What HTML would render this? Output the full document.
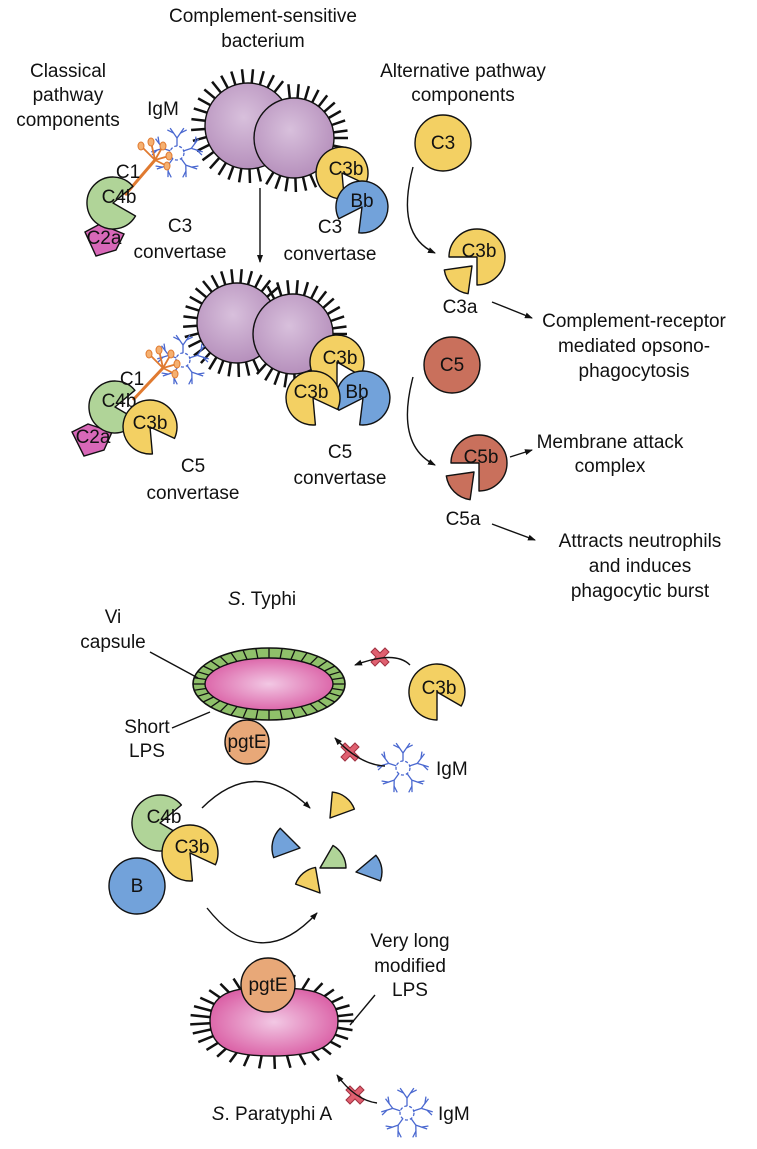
<!DOCTYPE html>
<html><head><meta charset="utf-8"><style>
html,body{margin:0;padding:0;background:#fff;}
svg{display:block;}
text{font-family:"Liberation Sans",sans-serif;font-size:19px;fill:#111;}
</style></head><body>
<svg id="s" width="757" height="1149" viewBox="0 0 757 1149" xmlns="http://www.w3.org/2000/svg">
<defs>
<radialGradient id="gp" cx="0.45" cy="0.4" r="0.6"><stop offset="0" stop-color="#d8c0dc"/><stop offset="1" stop-color="#b690bc"/></radialGradient>
<radialGradient id="gk" cx="0.5" cy="0.5" r="0.6"><stop offset="0" stop-color="#f2c8e4"/><stop offset="1" stop-color="#d8559f"/></radialGradient>
<marker id="ar" markerWidth="8" markerHeight="8" refX="7" refY="4" orient="auto" markerUnits="userSpaceOnUse"><path d="M0,1 L8,4 L0,7 Z" fill="#111"/></marker>
</defs>
<g id="spk" stroke="#111" stroke-width="2.5"></g>
<g id="shapes"></g>
<g id="lines" fill="none" stroke="#111" stroke-width="1.4">
<line x1="260" y1="188" x2="260" y2="262" marker-end="url(#ar)"/>
<path d="M413,167 Q395,235 435,253" marker-end="url(#ar)"/>
<line x1="492" y1="302" x2="532" y2="318" marker-end="url(#ar)"/>
<path d="M413,377 Q395,445 435,465" marker-end="url(#ar)"/>
<line x1="510" y1="457" x2="532" y2="450" marker-end="url(#ar)"/>
<line x1="492" y1="524" x2="535" y2="540" marker-end="url(#ar)"/>
<line x1="150" y1="652" x2="198" y2="678"/>
<line x1="172" y1="728" x2="210" y2="712"/>
<path d="M410,665 Q395,650 355,665" marker-end="url(#ar)"/>
<path d="M385,766 Q360,765 335,738" marker-end="url(#ar)"/>
<path d="M202,808 Q255,755 310,808" marker-end="url(#ar)"/>
<path d="M207,908 Q260,975 317,913" marker-end="url(#ar)"/>
<line x1="375" y1="995" x2="350" y2="1025"/>
<path d="M377,1103 Q355,1100 337,1075" marker-end="url(#ar)"/>
</g>
<g id="top"></g>
<g text-anchor="middle">
<text x="263" y="22">Complement-sensitive</text>
<text x="263" y="47">bacterium</text>
<text x="68" y="77">Classical</text>
<text x="68" y="101">pathway</text>
<text x="68" y="126">components</text>
<text x="463" y="77">Alternative pathway</text>
<text x="463" y="101">components</text>
<text x="163" y="115">IgM</text>
<text x="128" y="178">C1</text>
<text x="180" y="232">C3</text>
<text x="180" y="258">convertase</text>
<text x="330" y="233">C3</text>
<text x="330" y="260">convertase</text>
<text x="460" y="313">C3a</text>
<text x="634" y="327">Complement-receptor</text>
<text x="634" y="352">mediated opsono-</text>
<text x="634" y="377">phagocytosis</text>
<text x="610" y="448">Membrane attack</text>
<text x="610" y="472">complex</text>
<text x="463" y="525">C5a</text>
<text x="640" y="547">Attracts neutrophils</text>
<text x="640" y="572">and induces</text>
<text x="640" y="597">phagocytic burst</text>
<text x="132" y="385">C1</text>
<text x="193" y="472">C5</text>
<text x="193" y="499">convertase</text>
<text x="340" y="458">C5</text>
<text x="340" y="484">convertase</text>
<text x="262" y="605"><tspan font-style="italic">S</tspan>. Typhi</text>
<text x="113" y="623">Vi</text>
<text x="113" y="648">capsule</text>
<text x="147" y="733">Short</text>
<text x="147" y="757">LPS</text>
<text x="410" y="947">Very long</text>
<text x="410" y="972">modified</text>
<text x="410" y="996">LPS</text>
<text x="272" y="1120"><tspan font-style="italic">S</tspan>. Paratyphi A</text>
</g>
<text x="436" y="775">IgM</text>
<text x="438" y="1120">IgM</text>
</svg>
<script>
var NS="http://www.w3.org/2000/svg";
var S=document.getElementById('shapes'),K=document.getElementById('spk');
function el(p,tag,a){var e=document.createElementNS(NS,tag);for(var k in a)e.setAttribute(k,a[k]);p.appendChild(e);return e;}
function P(cx,cy,r,a){a=a*Math.PI/180;return (cx+r*Math.cos(a)).toFixed(1)+","+(cy+r*Math.sin(a)).toFixed(1);}
function txt(p,x,y,s){var t=el(p,'text',{x:x,y:y+6,'text-anchor':'middle'});t.textContent=s;}
function circ(p,cx,cy,r,f,lab){el(p,'circle',{cx:cx,cy:cy,r:r,fill:f,stroke:'#111','stroke-width':1.4});if(lab)txt(p,cx,cy,lab);}
function pac(p,cx,cy,r,d,w,f,lab,lx,ly){el(p,'path',{d:"M"+cx+","+cy+" L"+P(cx,cy,r,d+w)+" A"+r+" "+r+" 0 1 1 "+P(cx,cy,r,d-w)+" Z",fill:f,stroke:'#111','stroke-width':1.4,'stroke-linejoin':'round'});if(lab)txt(p,cx+(lx||0),cy+(ly||-6),lab);}
function sec(p,cx,cy,r,a1,a2,f){el(p,'path',{d:"M"+cx+","+cy+" L"+P(cx,cy,r,a1)+" A"+r+" "+r+" 0 0 1 "+P(cx,cy,r,a2)+" Z",fill:f,stroke:'#111','stroke-width':1.4,'stroke-linejoin':'round'});}
function spikesC(cx,cy,r,L,step,ex){for(var a=0;a<360;a+=step){var x=cx+r*Math.cos(a*Math.PI/180),y=cy+r*Math.sin(a*Math.PI/180);if(ex&&Math.hypot(x-ex[0],y-ex[1])<ex[2]+4)continue;el(K,'line',{x1:x.toFixed(1),y1:y.toFixed(1),x2:(cx+(r+L)*Math.cos(a*Math.PI/180)).toFixed(1),y2:(cy+(r+L)*Math.sin(a*Math.PI/180)).toFixed(1)});}}
function igm(p,cx,cy){var g=el(p,'g',{stroke:'#4a68d0','stroke-width':1.3,fill:'none'});el(g,'circle',{cx:cx,cy:cy,r:7,'stroke-dasharray':'3 2'});
for(var i=0;i<5;i++){var a=i*72-90;var b=a*Math.PI/180;var x1=cx+7*Math.cos(b),y1=cy+7*Math.sin(b),x2=cx+15*Math.cos(b),y2=cy+15*Math.sin(b);
el(g,'line',{x1:x1,y1:y1,x2:x2,y2:y2});
[-35,35].forEach(function(o){var c=(a+o)*Math.PI/180;el(g,'line',{x1:x2,y1:y2,x2:x2+12*Math.cos(c),y2:y2+12*Math.sin(c)});
var c2=(a+o*1.8)*Math.PI/180;el(g,'line',{x1:x2+6*Math.cos(c),y1:y2+6*Math.sin(c),x2:x2+6*Math.cos(c)+7*Math.cos(c2),y2:y2+6*Math.sin(c)+7*Math.sin(c2)});});}}
function c1(p,x1,y1,x2,y2){var g=el(p,'g',{stroke:'#e07a30','stroke-width':3,fill:'none'});el(g,'line',{x1:x1,y1:y1,x2:x2,y2:y2});
[[-14,-14],[-4,-18],[8,-14],[14,-4],[12,6]].forEach(function(d){el(g,'line',{x1:x2,y1:y2,x2:x2+d[0],y2:y2+d[1],'stroke-width':1.8});el(g,'ellipse',{cx:x2+d[0],cy:y2+d[1],rx:3,ry:4,fill:'#f5b070','stroke-width':1});});}
function xmark(p,cx,cy){var g=el(p,'g',{stroke:'#a03040','stroke-width':1});el(g,'path',{d:"M"+(cx-9)+","+(cy-5)+" l4,-4 l5,5 l5,-5 l4,4 l-5,5 l5,5 l-4,4 l-5,-5 l-5,5 l-4,-4 l5,-5 z",fill:'#e06070'});}
var Y='#f3d063',B='#72a2da',G='#b0d498',PK='#d868b8',OR='#e8a878',BR='#c9705c';
spikesC(248,126,43,14,11,[294,138,40]);spikesC(294,138,40,14,11,[248,126,43]);
circ(S,248,126,43,'url(#gp)');circ(S,294,138,40,'url(#gp)');
igm(S,177,153);c1(S,125,195,155,160);
el(S,'path',{d:"M85,232 L100,224 L124,234 L116,250 L96,256 Z",fill:PK,stroke:'#111','stroke-width':1.4});txt(S,104,238,'C2a');
pac(S,113,203,26,-5,35,G,'C4b',6,-6);
pac(S,342,173,26,55,30,Y,'C3b',4,-4);pac(S,362,207,26,125,28,B,'Bb',0,-6);
spikesC(237,323,40,14,11,[293,334,40]);spikesC(293,334,40,14,11,[237,323,40]);
circ(S,237,323,40,'url(#gp)');circ(S,293,334,40,'url(#gp)');
igm(S,183,360);c1(S,133,400,163,368);
el(S,'path',{d:"M72,432 L88,424 L112,432 L104,450 L84,456 Z",fill:PK,stroke:'#111','stroke-width':1.4});txt(S,93,437,'C2a');
pac(S,115,407,26,-5,35,G,'C4b',4,-6);pac(S,150,427,27,55,30,Y,'C3b',0,-4);
pac(S,337,362,27,60,30,Y,'C3b',3,-4);pac(S,363,398,27,125,28,B,'Bb',-6,-6);pac(S,313,398,27,55,30,Y,'C3b',-2,-6);
circ(S,443,143,28,Y,'C3');pac(S,477,257,28,135,45,Y,'C3b',2,-6);sec(S,472,266,28,98,172,Y);
circ(S,452,365,28,BR,'C5');pac(S,479,463,28,135,45,BR,'C5b',2,-6);sec(S,474,472,28,98,172,BR);
el(S,'ellipse',{cx:269,cy:684,rx:76,ry:36,fill:'#8fc06a',stroke:'#111','stroke-width':1.6});
for(var a=0;a<360;a+=10){var b=a*Math.PI/180;el(S,'line',{x1:269+64*Math.cos(b),y1:684+26*Math.sin(b),x2:269+76*Math.cos(b),y2:684+36*Math.sin(b),stroke:'#111','stroke-width':1.3});}
el(S,'ellipse',{cx:269,cy:684,rx:64,ry:26,fill:'url(#gk)',stroke:'#111','stroke-width':1.4});
circ(S,247,742,22,OR,'pgtE');
pac(S,437,692,28,60,30,Y,'C3b',2,-4);igm(S,403,768);
xmark(S,380,657);xmark(S,350,752);
pac(S,160,823,28,-5,35,G,'C4b',4,-6);pac(S,190,853,28,55,30,Y,'C3b',2,-6);circ(S,137,886,28,B,'B');
sec(S,330,818,26,-85,-20,Y);sec(S,300,848,28,160,225,B);sec(S,320,868,26,-60,0,G);sec(S,356,872,26,-40,20,B);sec(S,320,893,26,200,260,Y);
for(var a=0;a<360;a+=11){var b=a*Math.PI/180;el(K,'line',{x1:272+60*Math.cos(b),y1:1021+30*Math.sin(b),x2:272+82*Math.cos(b),y2:1021+48*Math.sin(b)});}
el(S,'path',{d:"M210,1021 C210,985 250,988 272,988 C300,988 338,988 338,1021 C338,1050 310,1056 272,1056 C235,1056 210,1050 210,1021 Z",fill:'url(#gk)',stroke:'#111','stroke-width':1.4});
circ(S,268,985,27,OR,'pgtE');
igm(S,407,1113);xmark(S,355,1095);
</script>
</body></html>
